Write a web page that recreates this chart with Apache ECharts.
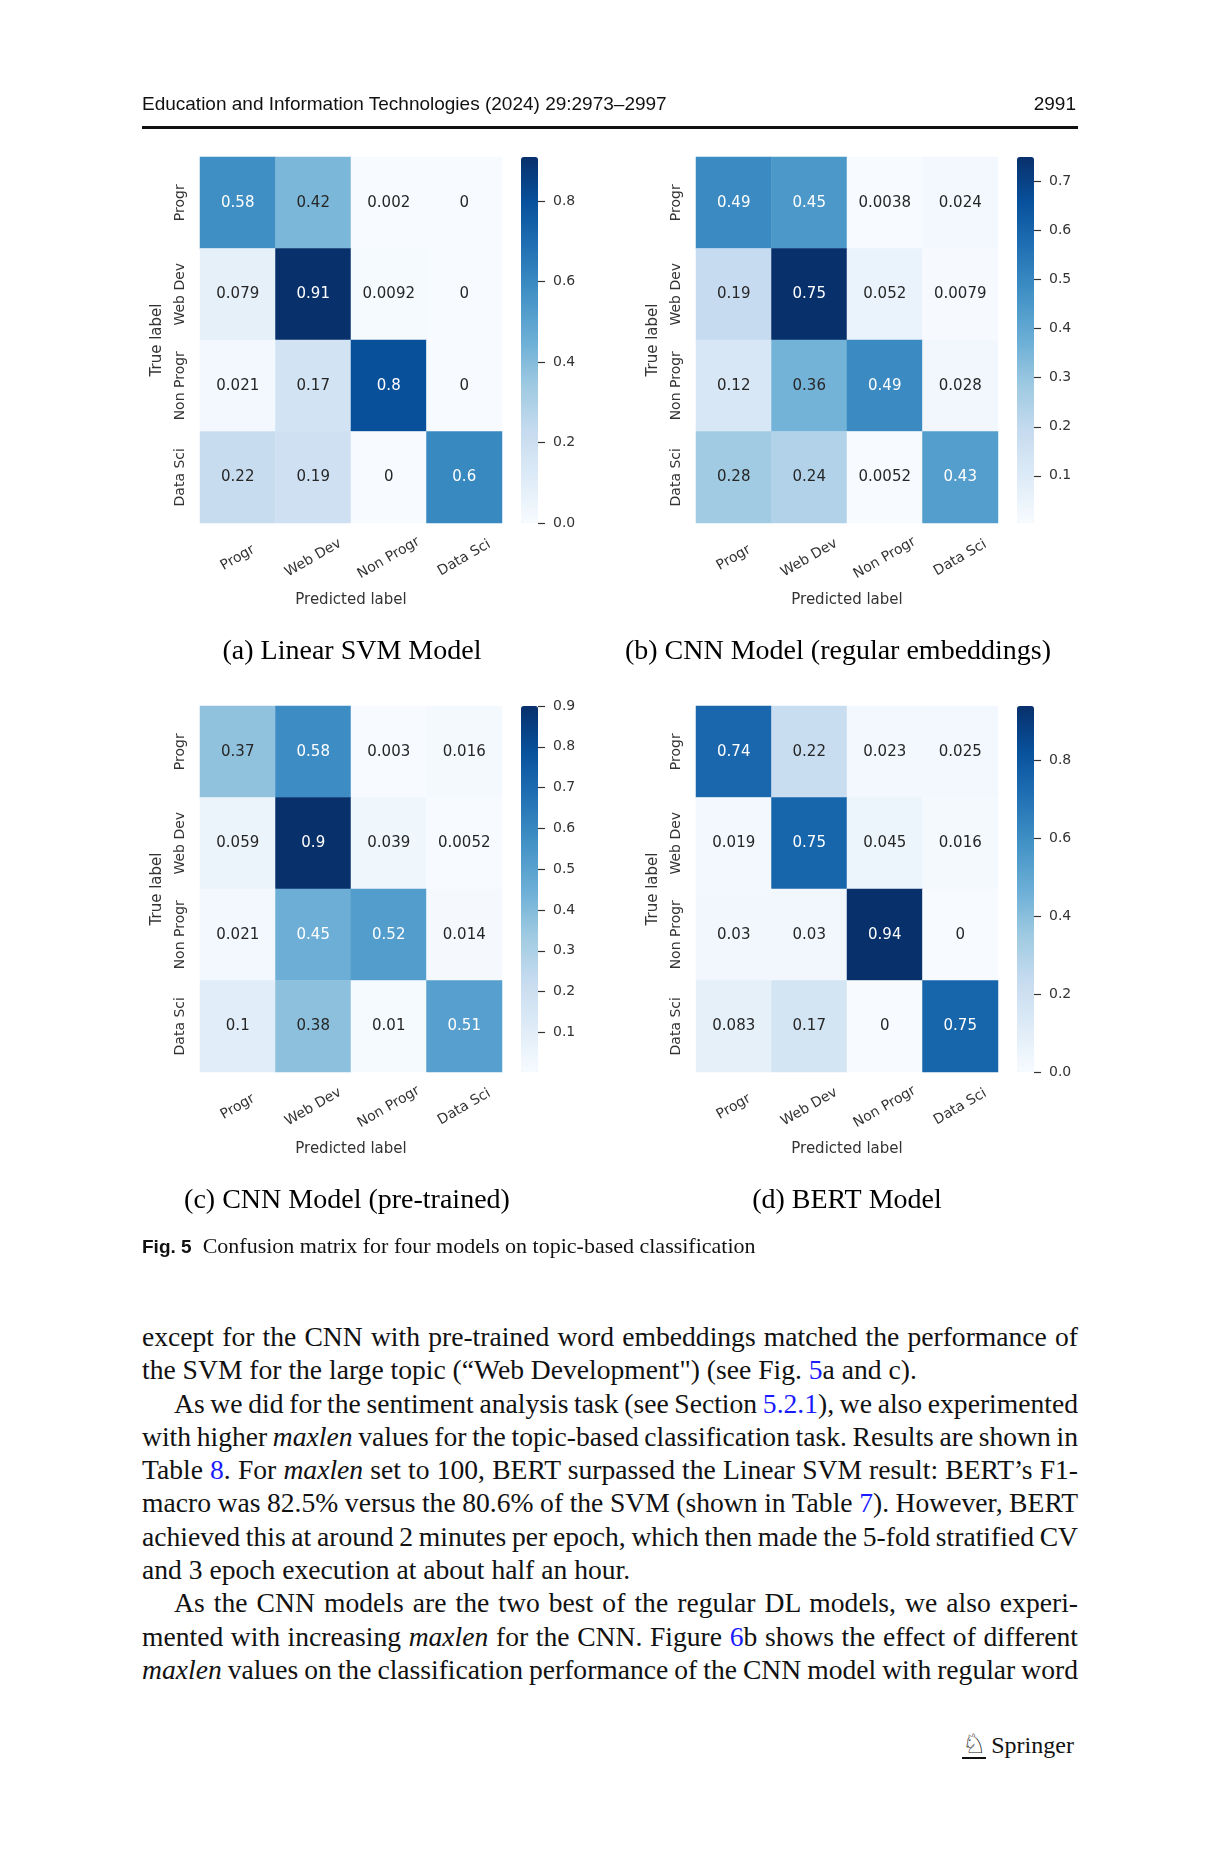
<!DOCTYPE html>
<html>
<head>
<meta charset="utf-8">
<script src="https://cdn.jsdelivr.net/npm/echarts@6/dist/echarts.min.js"></script>
<style>
html,body{margin:0;padding:0;background:#fff;}
#page{position:relative;width:1221px;height:1851px;overflow:hidden;background:#fff;}
#chart{position:absolute;left:0;top:0;width:1221px;height:1300px;}
.sans{font-family:"Liberation Sans",Arial,sans-serif;}
.hdr{position:absolute;font-size:19px;line-height:19px;color:#111;white-space:nowrap;}
#rule{position:absolute;left:142px;top:126px;width:936px;height:3px;background:#111;}
#figcap{position:absolute;left:142px;top:1235px;font-family:"Liberation Serif","Times New Roman",serif;font-size:22px;line-height:22px;color:#111;white-space:nowrap;}
#figcap b{font-family:"Liberation Sans",Arial,sans-serif;font-size:19px;margin-right:11px;}
#body{position:absolute;left:142px;top:1320px;width:936px;font-family:"Liberation Serif","Times New Roman",serif;font-size:27.6px;line-height:33.3px;color:#111;}
#body .j{text-align:justify;text-align-last:justify;word-spacing:-2px;white-space:nowrap;}
#body .l{text-align:left;white-space:nowrap;}
#body .ind{text-indent:32px;}
#body a{color:#1b1bff;text-decoration:none;}
#springer{position:absolute;left:962px;top:1730px;font-family:"Liberation Serif",serif;font-size:24px;line-height:28px;color:#111;white-space:nowrap;}
#springer .logo{font-family:"DejaVu Sans";font-size:27px;display:inline-block;border-bottom:2px solid #111;line-height:27px;margin-right:5px;}
</style>
</head>
<body>
<div id="page">
  <div id="chart"></div>
  <div class="hdr sans" style="left:142px;top:94px;">Education and Information Technologies (2024) 29:2973–2997</div>
  <div class="hdr sans" style="right:145px;top:94px;">2991</div>
  <div id="rule"></div>
  <div id="figcap"><b>Fig. 5</b>Confusion matrix for four models on topic-based classification</div>
  <div id="body">
    <div class="j">except for the CNN with pre-trained word embeddings matched the performance of</div>
    <div class="l">the SVM for the large topic (“Web Development") (see Fig. <a>5</a>a and c).</div>
    <div class="j ind">As we did for the sentiment analysis task (see Section <a>5.2.1</a>), we also experimented</div>
    <div class="j">with higher <i>maxlen</i> values for the topic-based classification task. Results are shown in</div>
    <div class="j">Table <a>8</a>. For <i>maxlen</i> set to 100, BERT surpassed the Linear SVM result: BERT’s F1-</div>
    <div class="j">macro was 82.5% versus the 80.6% of the SVM (shown in Table <a>7</a>). However, BERT</div>
    <div class="j">achieved this at around 2 minutes per epoch, which then made the 5-fold stratified CV</div>
    <div class="l">and 3 epoch execution at about half an hour.</div>
    <div class="j ind">As the CNN models are the two best of the regular DL models, we also experi-</div>
    <div class="j">mented with increasing <i>maxlen</i> for the CNN. Figure <a>6</a>b shows the effect of different</div>
    <div class="j"><i>maxlen</i> values on the classification performance of the CNN model with regular word</div>
  </div>
  <div id="springer"><span class="logo">♘</span>Springer</div>
</div>
<script>
// ---- data ----
const categories = ['Progr', 'Web Dev', 'Non Progr', 'Data Sci'];
const svmValues = [
  [0.58, 0.42, 0.002, 0],
  [0.079, 0.91, 0.0092, 0],
  [0.021, 0.17, 0.8, 0],
  [0.22, 0.19, 0, 0.6]
];
const cnnRegularValues = [
  [0.49, 0.45, 0.0038, 0.024],
  [0.19, 0.75, 0.052, 0.0079],
  [0.12, 0.36, 0.49, 0.028],
  [0.28, 0.24, 0.0052, 0.43]
];
const cnnPretrainedValues = [
  [0.37, 0.58, 0.003, 0.016],
  [0.059, 0.9, 0.039, 0.0052],
  [0.021, 0.45, 0.52, 0.014],
  [0.1, 0.38, 0.01, 0.51]
];
const bertValues = [
  [0.74, 0.22, 0.023, 0.025],
  [0.019, 0.75, 0.045, 0.016],
  [0.03, 0.03, 0.94, 0],
  [0.083, 0.17, 0, 0.75]
];
const svmTicks = [0, 0.2, 0.4, 0.6, 0.8];
const cnnRegularTicks = [0.1, 0.2, 0.3, 0.4, 0.5, 0.6, 0.7];
const cnnPretrainedTicks = [0.1, 0.2, 0.3, 0.4, 0.5, 0.6, 0.7, 0.8, 0.9];
const bertTicks = [0, 0.2, 0.4, 0.6, 0.8];
const subCaptions = ['(a) Linear SVM Model', '(b) CNN Model (regular embeddings)', '(c) CNN Model (pre-trained)', '(d) BERT Model'];
const xAxisTitle = 'Predicted label';
const yAxisTitle = 'True label';

// ---- style ----
const blues = ['#f7fbff', '#deebf7', '#c6dbef', '#9ecae1', '#6baed6', '#4292c6', '#2171b5', '#08519c', '#08306b'];
const layout = [
  { left: 200, top: 157, capX: 352, capY: 652 },
  { left: 696, top: 157, capX: 838, capY: 652 },
  { left: 200, top: 706, capX: 347, capY: 1201 },
  { left: 696, top: 706, capX: 847, capY: 1201 }
];
const matrices = [svmValues, cnnRegularValues, cnnPretrainedValues, bertValues];
const tickSets = [svmTicks, cnnRegularTicks, cnnPretrainedTicks, bertTicks];
const CELL_W = 302, CELL_H = 366, CB_GAP = 19, CB_W = 17;
const FONT = 'DejaVu Sans';
const TXT = '#333333';

function hexToRgb(h) { return [1, 3, 5].map(i => parseInt(h.slice(i, i + 2), 16)); }
function bluesAt(t) {
  t = Math.max(0, Math.min(1, t));
  const p = t * (blues.length - 1);
  const i = Math.min(blues.length - 2, Math.floor(p));
  const f = p - i;
  const a = hexToRgb(blues[i]), b = hexToRgb(blues[i + 1]);
  return a.map((v, k) => v + (b[k] - v) * f);
}
function luminance(rgb) {
  const c = rgb.map(v => { v /= 255; return v <= 0.03928 ? v / 12.92 : Math.pow((v + 0.055) / 1.055, 2.4); });
  return 0.2126 * c[0] + 0.7152 * c[1] + 0.0722 * c[2];
}

const grid = [], xAxis = [], yAxis = [], series = [], visualMap = [], graphic = [];
matrices.forEach((m, p) => {
  const flat = m.flat();
  const vmin = Math.min(...flat), vmax = Math.max(...flat);
  const L = layout[p];
  grid.push({ left: L.left, top: L.top, width: CELL_W, height: CELL_H });
  grid.push({ left: L.left + CELL_W + CB_GAP, top: L.top, width: CB_W, height: CELL_H });
  xAxis.push({
    type: 'category', gridIndex: 2 * p, data: categories,
    axisLine: { show: false }, axisTick: { show: false }, splitLine: { show: false },
    axisLabel: { interval: 0, rotate: 30, align: 'center', verticalAlign: 'middle', margin: 35, fontFamily: FONT, fontSize: 14, color: TXT },
    name: xAxisTitle, nameLocation: 'middle', nameGap: 70,
    nameTextStyle: { fontFamily: FONT, fontSize: 15, color: TXT }
  });
  xAxis.push({ type: 'category', gridIndex: 2 * p + 1, show: false, data: [''] });
  yAxis.push({
    type: 'category', gridIndex: 2 * p, data: categories, inverse: true,
    axisLine: { show: false }, axisTick: { show: false }, splitLine: { show: false },
    axisLabel: { interval: 0, rotate: 90, margin: 13, fontFamily: FONT, fontSize: 14, color: TXT },
    name: yAxisTitle, nameLocation: 'middle', nameGap: 35, nameRotate: 90,
    nameTextStyle: { fontFamily: FONT, fontSize: 15, color: TXT }
  });
  yAxis.push({
    type: 'value', gridIndex: 2 * p + 1, position: 'right', min: vmin, max: vmax,
    axisLine: { show: false, onZero: false }, splitLine: { show: false },
    axisTick: { show: true, inside: false, length: 7, customValues: tickSets[p], lineStyle: { color: TXT, width: 1.2 } },
    axisLabel: { margin: 15, customValues: tickSets[p], formatter: v => Number(v).toFixed(1), fontFamily: FONT, fontSize: 14, color: TXT }
  });
  const data = [];
  m.forEach((row, r) => row.forEach((v, c) => {
    const col = bluesAt((v - vmin) / (vmax - vmin));
    data.push({ value: [c, r, v], label: { color: luminance(col) < 0.408 ? '#ffffff' : '#262626' } });
  }));
  series.push({
    type: 'heatmap', xAxisIndex: 2 * p, yAxisIndex: 2 * p, data: data,
    label: { show: true, formatter: q => String(q.value[2]), fontFamily: FONT, fontSize: 15 },
    itemStyle: { borderWidth: 0 },
    emphasis: { disabled: true }
  });
  visualMap.push({
    type: 'continuous', seriesIndex: p, min: vmin, max: vmax, dimension: 2,
    inRange: { color: blues },
    left: L.left + CELL_W + CB_GAP, top: L.top, itemWidth: CB_W, itemHeight: CELL_H,
    padding: 0, calculable: false, hoverLink: false, text: null, showLabel: false
  });
  graphic.push({
    type: 'text', x: L.capX, y: L.capY,
    style: { text: subCaptions[p], align: 'center', verticalAlign: 'middle', font: '28px "Liberation Serif"', fill: '#000' }
  });
});

const chart = echarts.init(document.getElementById('chart'), null, { renderer: 'canvas' });
chart.setOption({
  animation: false,
  backgroundColor: 'transparent',
  grid, xAxis, yAxis, series, visualMap, graphic
});
</script>
</body>
</html>
